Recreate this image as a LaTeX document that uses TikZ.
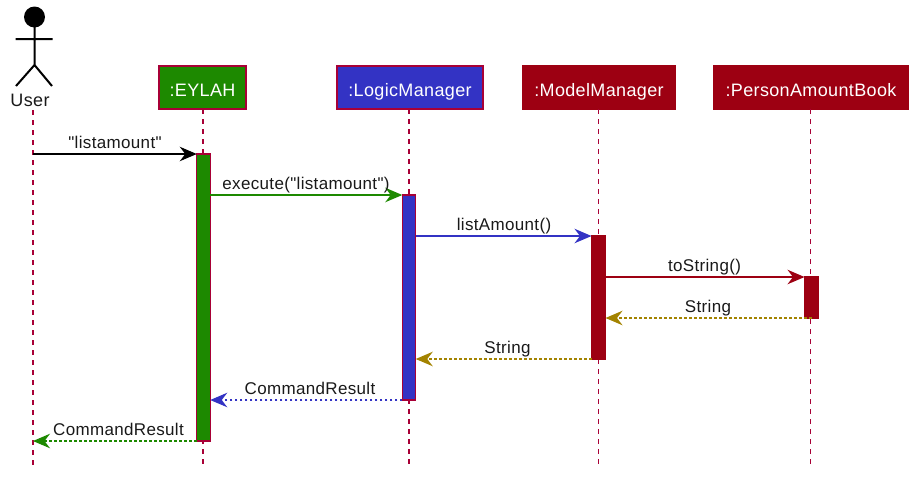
\documentclass[tikz,border=0pt]{standalone}
\usepackage{fontspec}
\newfontfamily\diafont[LetterSpace=2]{Liberation Sans}
\usetikzlibrary{arrows.meta}
\definecolor{ln}{HTML}{A80036}
\definecolor{uic}{HTML}{1D8900}
\definecolor{logicc}{HTML}{3333C4}
\definecolor{modelc}{HTML}{9D0012}
\definecolor{storec}{HTML}{A38300}
\tikzset{
  x=1pt,y=-1pt,
  part/.style={draw=ln,line width=1.5pt,outer sep=0pt,fill=#1,text=white,inner sep=0pt,minimum height=43pt,text height=13pt,text depth=4pt,font=\diafont\fontsize{18}{20}\selectfont},
  modelpart/.style={part=modelc,draw=modelc},
  act/.style={draw=ln,line width=1.1pt,outer sep=0pt,fill=#1,inner sep=0pt,minimum width=13.5pt,anchor=north},
  lifeline/.style={draw=ln,line width=1.3pt,dash pattern=on 5pt off 5pt},
  msg/.style={draw=#1,line width=1.1pt,-{Stealth[length=17pt,width=14.5pt,inset=5.5pt,fill=#1]}},
  ret/.style={draw=#1,line width=1.1pt,dash pattern=on 2.5pt off 2.5pt,-{Stealth[length=17pt,width=14.5pt,inset=5.5pt,fill=#1]}},
  lbl/.style={font=\diafont\fontsize{17}{19}\selectfont,inner sep=0pt,text=black!90,anchor=base}
}
\begin{document}
\begin{tikzpicture}
\useasboundingbox (0,0) rectangle (921,480);
% actor
\fill (34.5,17) circle (10.5);
\coordinate (neck) at (34.5,27);
\coordinate (hip) at (34.5,65);
\coordinate (armL) at (15.5,39);
\coordinate (armR) at (52.5,39);
\coordinate (legL) at (16,86);
\coordinate (legR) at (52,86);
\draw[line width=2pt] (neck)--(hip) (armL)--(armR) (legL)--(hip)--(legR);
\node[font=\diafont\fontsize{18}{20}\selectfont,inner sep=0pt,text=black!90,anchor=base] (user) at (30,106) {User};
% participants
\node[part=uic,minimum width=87pt] (eylah) at (202.5,87.5) {\raisebox{-4pt}{:EYLAH}};
\node[part=logicc,minimum width=146pt] (logic) at (410,87.5) {\raisebox{-4pt}{:LogicManager}};
\node[modelpart,minimum width=152pt] (model) at (599,87.5) {\raisebox{-4pt}{:ModelManager}};
\node[modelpart,minimum width=194pt] (pab) at (811,87.5) {\raisebox{-4pt}{:PersonAmountBook}};
% lifeline ends
\coordinate (userTop) at (33,110);
\coordinate (userEnd) at (33,466);
\coordinate (eylahEnd) at (203,466);
\coordinate (logicEnd) at (409,466);
\coordinate (modelEnd) at (598.5,466);
\coordinate (pabEnd) at (810.5,466);
\draw[lifeline] (userTop)--(userEnd);
\draw[lifeline] (eylah.south -| eylahEnd)--(eylahEnd);
\draw[lifeline] (logic.south -| logicEnd)--(logicEnd);
\draw[lifeline] (model.south -| modelEnd)--(modelEnd);
\draw[lifeline] (pab.south -| pabEnd)--(pabEnd);
% activations
\node[act=uic,minimum height=287pt] (eylahA) at (203.5,154) {};
\node[act=logicc,minimum height=205pt] (logicA) at (409,195) {};
\node[act=modelc,draw=modelc,minimum height=123pt,minimum width=14pt] (modelA) at (598.5,236) {};
\node[act=modelc,draw=modelc,minimum height=41pt,minimum width=14pt] (pabA) at (811.5,277) {};
% messages
\coordinate (m1) at (33,154);
\coordinate (m8) at (33,441);
\draw[msg=black] (m1)--(eylahA.north west);
\draw[msg=uic] (eylahA.east |- logicA.north)--(logicA.north west);
\draw[msg=logicc] (logicA.east |- modelA.north)--(modelA.north west);
\draw[msg=modelc] (modelA.east |- pabA.north)--(pabA.north west);
\draw[ret=storec] (pabA.south)--(modelA.east |- pabA.south);
\draw[ret=storec] (modelA.south west)--(logicA.east |- modelA.south);
\draw[ret=logicc] (logicA.south west)--(eylahA.east |- logicA.south);
\draw[ret=uic] (eylahA.south west)--(m8);
% labels
\node[lbl] (l1) at (115,148) {"listamount"};
\node[lbl] (l2) at (306,189) {execute("listamount")};
\node[lbl] (l3) at (504,230) {listAmount()};
\node[lbl] (l4) at (704.5,271) {toString()};
\node[lbl] (l5) at (708,312) {String};
\node[lbl] (l6) at (507.5,353) {String};
\node[lbl] (l7) at (310,394) {CommandResult};
\node[lbl] (l8) at (118.5,435) {CommandResult};
\end{tikzpicture}
\end{document}
